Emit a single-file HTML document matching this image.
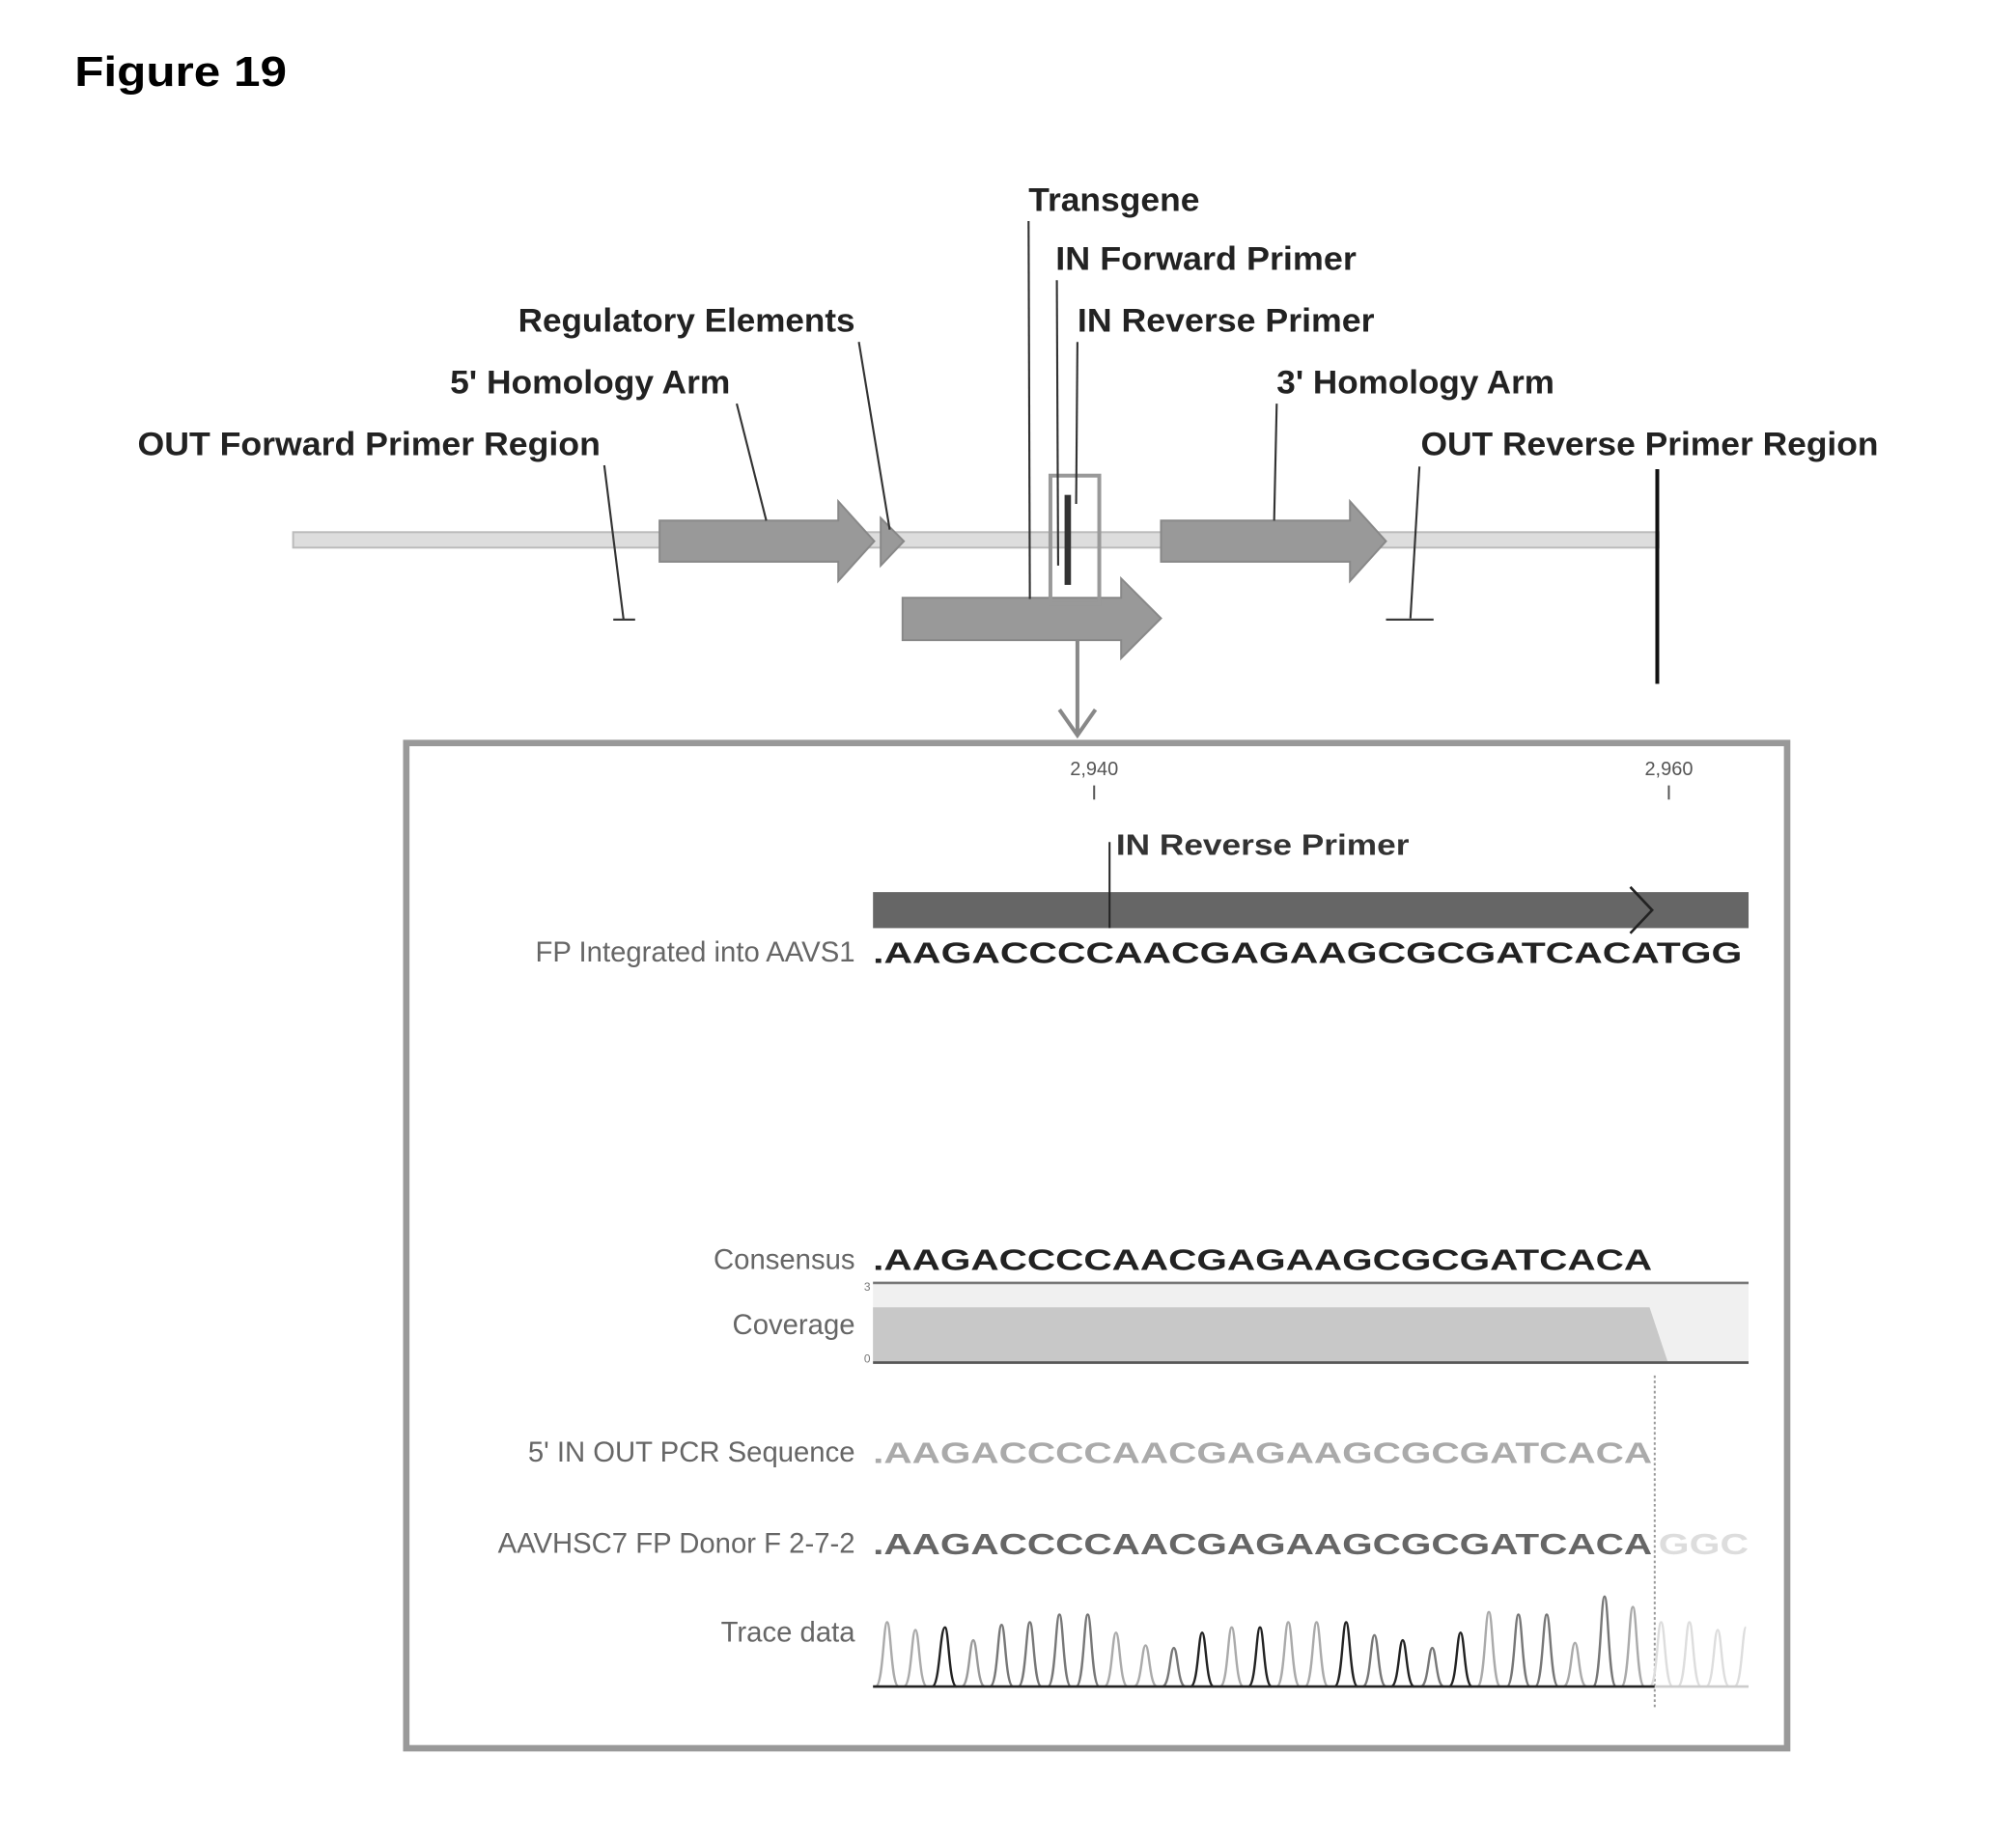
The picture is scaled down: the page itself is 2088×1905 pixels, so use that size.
<!DOCTYPE html>
<html><head><meta charset="utf-8"><style>html,body{margin:0;padding:0;background:#fff}svg{display:block}</style></head>
<body>
<svg width="2088" height="1905" viewBox="0 0 1568 1430.6" preserveAspectRatio="none" xmlns="http://www.w3.org/2000/svg" font-family="Liberation Sans, sans-serif">
<rect width="1568" height="1430.6" fill="#fff"/>
<text x="58" y="67" font-size="33" font-weight="bold" textLength="165" lengthAdjust="spacingAndGlyphs">Figure 19</text>
<g font-size="26" font-weight="bold" fill="#222">
<text x="800" y="164" textLength="133" lengthAdjust="spacingAndGlyphs">Transgene</text>
<text x="821" y="210" textLength="234" lengthAdjust="spacingAndGlyphs">IN Forward Primer</text>
<text x="838" y="258" textLength="231" lengthAdjust="spacingAndGlyphs">IN Reverse Primer</text>
<text x="403" y="258" textLength="262" lengthAdjust="spacingAndGlyphs">Regulatory Elements</text>
<text x="350" y="306" textLength="218" lengthAdjust="spacingAndGlyphs">5' Homology Arm</text>
<text x="993" y="306" textLength="216" lengthAdjust="spacingAndGlyphs">3' Homology Arm</text>
<text x="107" y="354" textLength="360" lengthAdjust="spacingAndGlyphs">OUT Forward Primer Region</text>
<text x="1105" y="354" textLength="356" lengthAdjust="spacingAndGlyphs">OUT Reverse Primer Region</text>
</g>
<rect x="228" y="414" width="1062" height="12" fill="#ddd" stroke="#bbb" stroke-width="1.5"/>
<g fill="#999" stroke="#888" stroke-width="1.5">
<polygon points="513,405 652,405 652,390 680,421 652,452 652,437 513,437"/>
<polygon points="685,403 703,421 685,440"/>
<polygon points="903,405 1050,405 1050,390 1078,421 1050,452 1050,437 903,437"/>
<polygon points="702,465 872,465 872,450 903,481 872,512 872,498 702,498"/>
</g>
<rect x="817" y="370" width="38" height="100" fill="none" stroke="#999" stroke-width="3"/>
<rect x="828" y="385" width="5" height="70" fill="#333"/>
<g stroke="#333" stroke-width="1.6" fill="none">
<line x1="800" y1="172" x2="801" y2="466"/>
<line x1="822" y1="218" x2="823" y2="440"/>
<line x1="838" y1="266" x2="837" y2="392"/>
<line x1="668" y1="266" x2="692" y2="412"/>
<line x1="573" y1="314" x2="596" y2="405"/>
<line x1="470" y1="362" x2="485" y2="482"/>
<line x1="477" y1="482" x2="494" y2="482"/>
<line x1="993" y1="314" x2="991" y2="405"/>
<line x1="1104" y1="363" x2="1097" y2="481"/>
<line x1="1078" y1="482" x2="1115" y2="482"/>
</g>
<line x1="1289" y1="365" x2="1289" y2="532" stroke="#111" stroke-width="3"/>
<g stroke="#888" stroke-width="3" fill="none">
<line x1="838" y1="498" x2="838" y2="572"/>
<polyline points="824,552 838,572 852,552"/>
</g>
<rect x="316" y="578" width="1074" height="782" fill="none" stroke="#999" stroke-width="5"/>
<g font-size="15" fill="#555" text-anchor="middle">
<text x="851" y="603">2,940</text>
<text x="1298" y="603">2,960</text>
</g>
<line x1="851" y1="611" x2="851" y2="622" stroke="#555" stroke-width="1.5"/>
<line x1="1298" y1="611" x2="1298" y2="622" stroke="#555" stroke-width="1.5"/>
<text x="868" y="665" font-size="23" font-weight="bold" fill="#333" textLength="228" lengthAdjust="spacingAndGlyphs">IN Reverse Primer</text>
<rect x="679" y="694" width="681" height="28" fill="#666"/>
<line x1="863" y1="655" x2="863" y2="722" stroke="#222" stroke-width="1.5"/>
<polyline points="1268,690 1285,708 1268,726" fill="none" stroke="#222" stroke-width="2"/>
<g font-size="22" fill="#666" text-anchor="end">
<text x="665" y="748">FP Integrated into AAVS1</text>
<text x="665" y="987">Consensus</text>
<text x="665" y="1038">Coverage</text>
<text x="665" y="1137">5' IN OUT PCR Sequence</text>
<text x="665" y="1208">AAVHSC7 FP Donor F 2-7-2</text>
<text x="665" y="1277">Trace data</text>
</g>
<g font-size="23" font-weight="bold">
<text x="679" y="749" fill="#222" textLength="676" lengthAdjust="spacingAndGlyphs">.AAGACCCCAACGAGAAGCGCGATCACATGG</text>
<text x="679" y="988" fill="#222" textLength="606" lengthAdjust="spacingAndGlyphs">.AAGACCCCAACGAGAAGCGCGATCACA</text>
<text x="679" y="1138" fill="#aaa" textLength="606" lengthAdjust="spacingAndGlyphs">.AAGACCCCAACGAGAAGCGCGATCACA</text>
<text x="679" y="1209" fill="#666" textLength="606" lengthAdjust="spacingAndGlyphs">.AAGACCCCAACGAGAAGCGCGATCACA</text>
<text x="1290" y="1209" fill="#ddd" textLength="70" lengthAdjust="spacingAndGlyphs">GGC</text>
</g>
<rect x="679" y="998" width="681" height="62" fill="#f0f0f0"/>
<polygon points="679,1017 1283,1017 1297,1059 679,1059" fill="#c8c8c8"/>
<line x1="679" y1="998" x2="1360" y2="998" stroke="#777" stroke-width="2"/>
<line x1="679" y1="1060" x2="1360" y2="1060" stroke="#555" stroke-width="2"/>
<text x="672" y="1004" font-size="9" fill="#777">3</text>
<text x="672" y="1060" font-size="9" fill="#777">0</text>
<line x1="1287" y1="1070" x2="1287" y2="1330" stroke="#999" stroke-width="1.5" stroke-dasharray="2,2"/>
<g fill="none" stroke-width="1.8">
<path stroke="#aaa" d="M681 1312 C687 1312 687 1262 690 1262 C693 1262 693 1312 699 1312"/>
<path stroke="#aaa" d="M703 1312 C709 1312 709 1268 712 1268 C715 1268 715 1312 721 1312"/>
<path stroke="#222" d="M725 1312 C731 1312 731 1266 735 1266 C738 1266 738 1312 744 1312"/>
<path stroke="#999" d="M748 1312 C754 1312 754 1276 757 1276 C760 1276 760 1312 766 1312"/>
<path stroke="#777" d="M770 1312 C776 1312 776 1264 779 1264 C782 1264 782 1312 788 1312"/>
<path stroke="#777" d="M792 1312 C798 1312 798 1262 801 1262 C804 1262 804 1312 810 1312"/>
<path stroke="#777" d="M815 1312 C821 1312 821 1256 824 1256 C827 1256 827 1312 833 1312"/>
<path stroke="#777" d="M837 1312 C843 1312 843 1256 846 1256 C849 1256 849 1312 855 1312"/>
<path stroke="#aaa" d="M859 1312 C865 1312 865 1270 868 1270 C871 1270 871 1312 877 1312"/>
<path stroke="#aaa" d="M882 1312 C888 1312 888 1280 891 1280 C894 1280 894 1312 900 1312"/>
<path stroke="#777" d="M904 1312 C910 1312 910 1282 913 1282 C916 1282 916 1312 922 1312"/>
<path stroke="#222" d="M926 1312 C932 1312 932 1270 935 1270 C938 1270 938 1312 944 1312"/>
<path stroke="#aaa" d="M949 1312 C955 1312 955 1266 958 1266 C961 1266 961 1312 967 1312"/>
<path stroke="#222" d="M971 1312 C977 1312 977 1266 980 1266 C983 1266 983 1312 989 1312"/>
<path stroke="#aaa" d="M993 1312 C999 1312 999 1262 1002 1262 C1005 1262 1005 1312 1011 1312"/>
<path stroke="#aaa" d="M1015 1312 C1021 1312 1021 1262 1024 1262 C1027 1262 1027 1312 1033 1312"/>
<path stroke="#222" d="M1038 1312 C1044 1312 1044 1262 1047 1262 C1050 1262 1050 1312 1056 1312"/>
<path stroke="#777" d="M1060 1312 C1066 1312 1066 1272 1069 1272 C1072 1272 1072 1312 1078 1312"/>
<path stroke="#222" d="M1082 1312 C1088 1312 1088 1276 1091 1276 C1094 1276 1094 1312 1100 1312"/>
<path stroke="#777" d="M1105 1312 C1111 1312 1111 1282 1114 1282 C1117 1282 1117 1312 1123 1312"/>
<path stroke="#222" d="M1127 1312 C1133 1312 1133 1270 1136 1270 C1139 1270 1139 1312 1145 1312"/>
<path stroke="#aaa" d="M1149 1312 C1155 1312 1155 1254 1158 1254 C1161 1254 1161 1312 1167 1312"/>
<path stroke="#777" d="M1172 1312 C1178 1312 1178 1256 1181 1256 C1184 1256 1184 1312 1190 1312"/>
<path stroke="#777" d="M1194 1312 C1200 1312 1200 1256 1203 1256 C1206 1256 1206 1312 1212 1312"/>
<path stroke="#aaa" d="M1216 1312 C1222 1312 1222 1278 1225 1278 C1228 1278 1228 1312 1234 1312"/>
<path stroke="#777" d="M1239 1312 C1245 1312 1245 1242 1248 1242 C1251 1242 1251 1312 1257 1312"/>
<path stroke="#aaa" d="M1261 1312 C1267 1312 1267 1250 1270 1250 C1273 1250 1273 1312 1279 1312"/>
<path stroke="#ddd" d="M1283 1312 C1289 1312 1289 1262 1292 1262 C1295 1262 1295 1312 1301 1312"/>
<path stroke="#ddd" d="M1305 1312 C1311 1312 1311 1262 1314 1262 C1317 1262 1317 1312 1323 1312"/>
<path stroke="#ddd" d="M1327 1312 C1333 1312 1333 1268 1336 1268 C1339 1268 1339 1312 1345 1312"/>
<path stroke="#ddd" d="M1349 1312 C1355 1312 1355 1266 1358 1266"/>
</g>
<line x1="679" y1="1312" x2="1287" y2="1312" stroke="#222" stroke-width="2"/>
<line x1="1287" y1="1312" x2="1360" y2="1312" stroke="#ccc" stroke-width="2"/>
</svg>
</body></html>
